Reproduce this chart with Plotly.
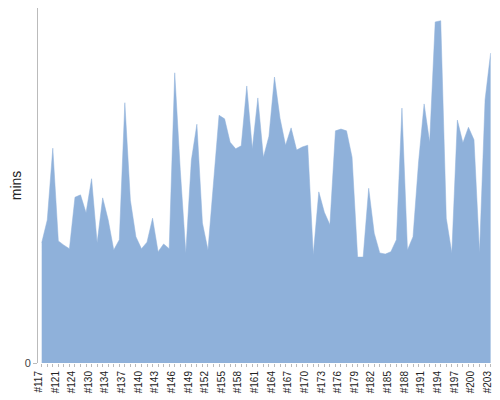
import plotly.graph_objects as go

# build numbers (some builds missing from the series)
builds = [117, 118, 120, 121, 122, 123, 124, 126, 128, 130, 131, 133] + list(range(134, 204))

# build duration in minutes
minutes = [
    20.1, 23.9, 35.9, 20.4, 19.7, 19.1, 27.7, 28.1, 25.1, 30.8,
    20.1, 27.6, 23.9, 18.9, 20.6, 43.5, 27.2, 21.1, 19.1, 20.2,
    24.2, 18.6, 19.9, 19.1, 48.5, 32.3, 18.4, 33.9, 39.9, 23.4,
    18.9, 29.7, 41.4, 40.8, 36.9, 35.8, 36.3, 46.3, 35.8, 44.3,
    34.4, 37.9, 47.8, 40.9, 36.4, 39.3, 35.6, 36.1, 36.4, 18.1,
    28.6, 25.2, 23.1, 38.8, 39.1, 38.8, 34.4, 17.7, 17.7, 29.2,
    21.7, 18.4, 18.2, 18.6, 20.6, 42.6, 18.9, 21.1, 33.6, 43.3,
    36.9, 57.0, 57.2, 24.2, 18.4, 40.6, 36.8, 39.4, 37.3, 18.4,
    44.0, 51.8,
]

labels = ["#%d" % b for b in builds]
idx = list(range(len(builds)))
# only every third build gets a label, but every build gets a tick
ticktext = [lab if i % 3 == 0 else "" for i, lab in enumerate(labels)]

fig = go.Figure()
fig.add_trace(
    go.Scatter(
        x=idx,
        y=minutes,
        mode="lines",
        fill="tozeroy",
        fillcolor="#8FB1DA",
        line={"color": "#8FB1DA", "width": 0.5},
        hoverinfo="skip",
    )
)

# the page body adds an 8px offset, so the figure is shrunk to fit the window
fig.update_layout(
    width=492,
    height=392,
    margin={"l": 30, "r": 8, "t": 0, "b": 37},
    plot_bgcolor="white",
    paper_bgcolor="white",
    showlegend=False,
    font={"family": "Liberation Sans, Arial, sans-serif", "color": "#222"},
)

fig.update_xaxes(
    range=[-0.67, 81.25],
    tickmode="array",
    tickvals=idx,
    ticktext=ticktext,
    tickangle=-90,
    tickfont={"size": 10, "color": "#222"},
    ticklabelshift=-3,
    ticklabeloverflow="allow",
    ticks="outside",
    ticklen=3,
    tickcolor="#bbbbbb",
    showgrid=False,
    zeroline=False,
    showline=False,
    automargin=False,
)

fig.update_yaxes(
    range=[0, 59.33],
    tickmode="array",
    tickvals=[0],
    ticktext=["0"],
    tickfont={"size": 11, "color": "#444"},
    ticks="outside",
    ticklen=4,
    tickcolor="#bbbbbb",
    showgrid=False,
    zeroline=False,
    showline=True,
    linecolor="#bbbbbb",
    linewidth=1,
    automargin=False,
    title={"text": "mins", "font": {"size": 14, "color": "#222"}, "standoff": 2},
)

fig.write_html("out.html")
